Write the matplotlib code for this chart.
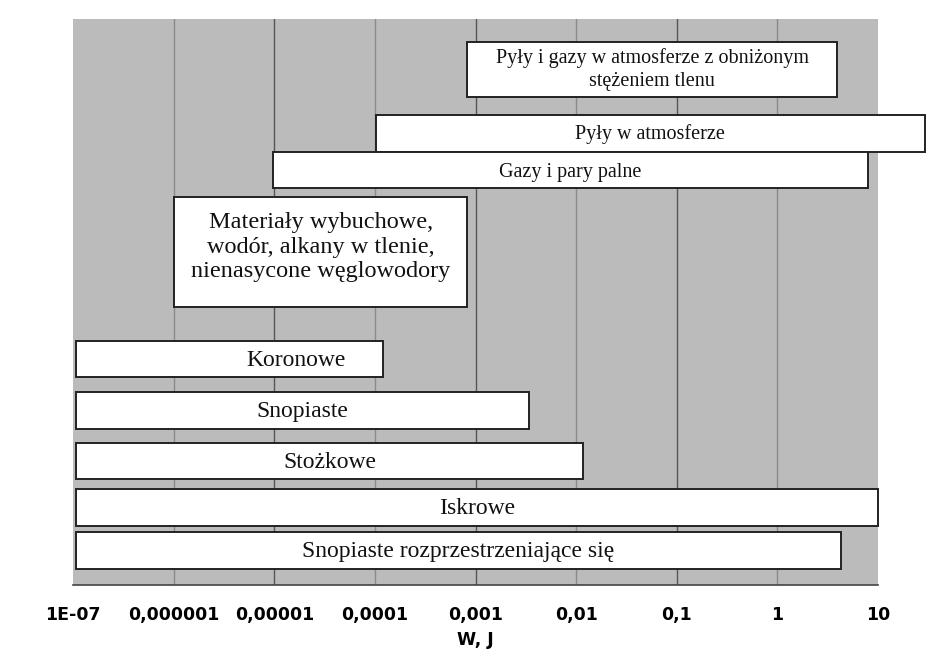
import matplotlib
matplotlib.use("Agg")
import matplotlib.pyplot as plt
import numpy as np

# ---- data ----
labels = [
    "Pyły i gazy w atmosferze z obniżonym\nstężeniem tlenu",
    "Pyły w atmosferze",
    "Gazy i pary palne",
    "Materiały wybuchowe,\nwodór, alkany w tlenie,\nnienasycone węglowodory",
    "Koronowe",
    "Snopiaste",
    "Stożkowe",
    "Iskrowe",
    "Snopiaste rozprzestrzeniające się",
]
w_min = [8.3e-4, 1.03e-4, 9.7e-6, 1.01e-6, 1.07e-7, 1.07e-7, 1.07e-7, 1.07e-7, 1.07e-7]
w_max = [3.9, 29.0, 8.0, 8.3e-4, 1.2e-4, 3.4e-3, 1.17e-2, 9.9, 4.3]
tick_values = [1e-7, 1e-6, 1e-5, 1e-4, 1e-3, 1e-2, 1e-1, 1, 10]
tick_labels = ["1E-07", "0,000001", "0,00001", "0,0001", "0,001", "0,01", "0,1", "1", "10"]
x_label = "W, J"

# ---- layout (vertical placement of rows, axis units measured from bottom) ----
row_top = [42, 115, 152, 197, 341, 392, 443, 489, 532]
row_bot = [97, 152, 188, 307, 377, 429, 479, 526, 569]
font_sizes = [14.5, 14.5, 14.5, 17.5, 17, 17, 17, 17, 17]
line_sp = [1.25, 1.0, 1.0, 1.22, 1.0, 1.0, 1.0, 1.0, 1.0]
text_dy = [0, -1, -3, 5, -1.5, -1.5, -1.5, -1.5, -1.5]
label_x_override = {4: 1.65e-5}

W, H = 927, 657
ax_l, ax_r, ax_t, ax_b = 73, 878, 19, 585

fig = plt.figure(figsize=(W / 100, H / 100), dpi=100)
ax = fig.add_axes([ax_l / W, (H - ax_b) / H, (ax_r - ax_l) / W, (ax_b - ax_t) / H])
ax.set_facecolor("#bbbbbb")
ax.set_xscale("log")
ax.set_xlim(1e-7, 10)
span = ax_b - ax_t
ax.set_ylim(0, span)

# gridlines
for tv in tick_values[1:-1]:
    exp = int(round(np.log10(tv)))
    col = "#555555" if exp % 2 else "#8a8a8a"
    ax.axvline(tv, color=col, lw=1.0, zorder=1)

serif = ["Liberation Serif", "DejaVu Serif"]
for i, lab in enumerate(labels):
    y0 = ax_b - row_bot[i]
    h = row_bot[i] - row_top[i]
    ax.barh(y0 + h / 2, w_max[i] - w_min[i], left=w_min[i], height=h,
            color="white", edgecolor="#222222", linewidth=1.4, zorder=3,
            clip_on=False)
    xc = label_x_override.get(i, np.sqrt(w_min[i] * min(w_max[i], 1e3)))
    ax.text(xc, y0 + h / 2 + text_dy[i], lab, ha="center", va="center",
            fontsize=font_sizes[i], family=serif, color="#111111",
            linespacing=line_sp[i], zorder=4, clip_on=False)

for s in ["top", "left", "right"]:
    ax.spines[s].set_visible(False)
ax.spines["bottom"].set_color("#444444")
ax.spines["bottom"].set_linewidth(1.2)
ax.set_yticks([])
ax.set_xticks(tick_values)
ax.set_xticklabels(tick_labels, fontsize=12.5, fontweight="bold", family="DejaVu Sans")
ax.xaxis.set_minor_locator(matplotlib.ticker.NullLocator())
ax.tick_params(axis="x", length=0, pad=15)
ax.set_xlabel(x_label, fontsize=12.5, fontweight="bold", family="DejaVu Sans", labelpad=5)

fig.savefig("out.png", dpi=100)
